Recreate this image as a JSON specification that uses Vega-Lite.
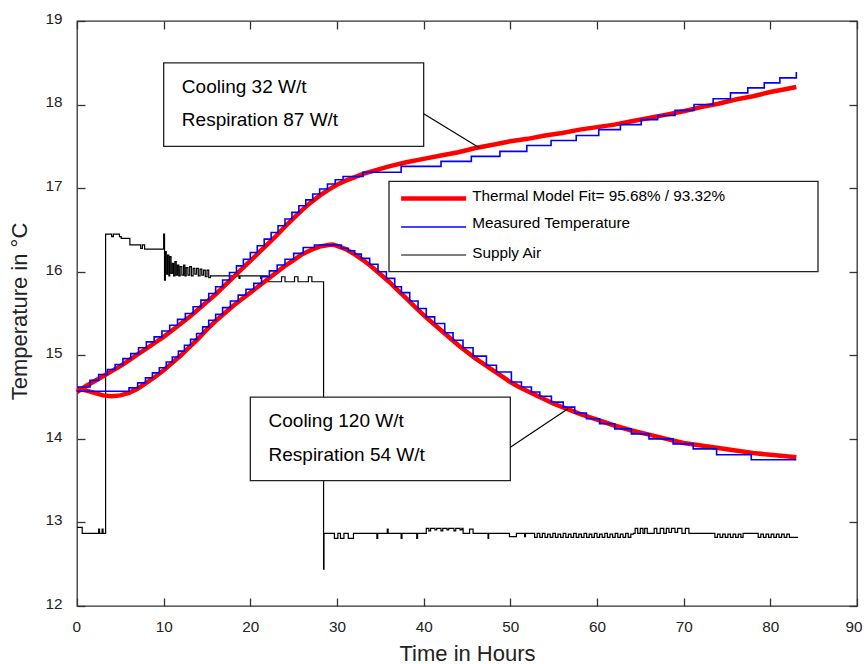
{
  "$schema": "https://vega.github.io/schema/vega-lite/v6.json",
  "width": 780,
  "height": 585,
  "autosize": {"type": "none"},
  "padding": {"left": 77, "top": 21, "right": 7, "bottom": 58},
  "background": "white",
  "config": {
    "view": {"stroke": "#333333", "strokeWidth": 1.3},
    "axis": {"labelFont": "Liberation Sans", "titleFont": "Liberation Sans"},
    "text": {"font": "Liberation Sans"}
  },
  "resolve": {"axis": {"x": "independent", "y": "independent"}},
  "datasets": {
    "fit": [
      {"c":"A","x":0,"y":14.56},{"c":"A","x":1,"y":14.63},{"c":"A","x":2,"y":14.69},{"c":"A","x":3,"y":14.75},{"c":"A","x":4,"y":14.81},{"c":"A","x":5,"y":14.87},{"c":"A","x":6,"y":14.94},{"c":"A","x":7,"y":15.01},{"c":"A","x":8,"y":15.08},{"c":"A","x":9,"y":15.15},{"c":"A","x":10,"y":15.22},{"c":"A","x":11,"y":15.30},{"c":"A","x":12,"y":15.38},{"c":"A","x":13,"y":15.46},{"c":"A","x":14,"y":15.55},{"c":"A","x":15,"y":15.64},{"c":"A","x":16,"y":15.73},{"c":"A","x":17,"y":15.83},{"c":"A","x":18,"y":15.93},{"c":"A","x":19,"y":16.03},{"c":"A","x":20,"y":16.13},{"c":"A","x":21,"y":16.23},{"c":"A","x":22,"y":16.33},{"c":"A","x":23,"y":16.43},{"c":"A","x":24,"y":16.54},{"c":"A","x":25,"y":16.64},{"c":"A","x":26,"y":16.74},{"c":"A","x":27,"y":16.83},{"c":"A","x":28,"y":16.91},{"c":"A","x":29,"y":16.98},{"c":"A","x":30,"y":17.04},{"c":"A","x":31,"y":17.09},{"c":"A","x":32,"y":17.13},{"c":"A","x":33,"y":17.17},{"c":"A","x":34,"y":17.20},{"c":"A","x":35,"y":17.23},{"c":"A","x":36,"y":17.26},{"c":"A","x":38,"y":17.31},{"c":"A","x":40,"y":17.35},{"c":"A","x":42,"y":17.39},{"c":"A","x":44,"y":17.43},{"c":"A","x":46,"y":17.48},{"c":"A","x":48,"y":17.52},{"c":"A","x":50,"y":17.56},{"c":"A","x":52,"y":17.59},{"c":"A","x":54,"y":17.63},{"c":"A","x":56,"y":17.66},{"c":"A","x":58,"y":17.70},{"c":"A","x":60,"y":17.73},{"c":"A","x":62,"y":17.76},{"c":"A","x":64,"y":17.80},{"c":"A","x":66,"y":17.84},{"c":"A","x":68,"y":17.88},{"c":"A","x":70,"y":17.92},{"c":"A","x":72,"y":17.97},{"c":"A","x":74,"y":18.01},{"c":"A","x":76,"y":18.06},{"c":"A","x":78,"y":18.10},{"c":"A","x":80,"y":18.15},{"c":"A","x":82,"y":18.19},{"c":"A","x":83,"y":18.21},
      {"c":"B","x":0,"y":14.60},{"c":"B","x":1,"y":14.58},{"c":"B","x":2,"y":14.55},{"c":"B","x":3,"y":14.52},{"c":"B","x":4,"y":14.51},{"c":"B","x":5,"y":14.52},{"c":"B","x":6,"y":14.55},{"c":"B","x":7,"y":14.60},{"c":"B","x":8,"y":14.67},{"c":"B","x":9,"y":14.74},{"c":"B","x":10,"y":14.82},{"c":"B","x":11,"y":14.91},{"c":"B","x":12,"y":15.00},{"c":"B","x":13,"y":15.10},{"c":"B","x":14,"y":15.20},{"c":"B","x":15,"y":15.31},{"c":"B","x":16,"y":15.41},{"c":"B","x":17,"y":15.50},{"c":"B","x":18,"y":15.59},{"c":"B","x":19,"y":15.67},{"c":"B","x":20,"y":15.75},{"c":"B","x":21,"y":15.83},{"c":"B","x":22,"y":15.91},{"c":"B","x":23,"y":15.99},{"c":"B","x":24,"y":16.07},{"c":"B","x":25,"y":16.14},{"c":"B","x":26,"y":16.21},{"c":"B","x":27,"y":16.26},{"c":"B","x":28,"y":16.30},{"c":"B","x":29,"y":16.32},{"c":"B","x":29.5,"y":16.325},{"c":"B","x":30,"y":16.31},{"c":"B","x":31,"y":16.27},{"c":"B","x":32,"y":16.21},{"c":"B","x":33,"y":16.14},{"c":"B","x":34,"y":16.06},{"c":"B","x":35,"y":15.97},{"c":"B","x":36,"y":15.88},{"c":"B","x":37,"y":15.78},{"c":"B","x":38,"y":15.68},{"c":"B","x":39,"y":15.58},{"c":"B","x":40,"y":15.48},{"c":"B","x":41,"y":15.39},{"c":"B","x":42,"y":15.30},{"c":"B","x":43,"y":15.21},{"c":"B","x":44,"y":15.12},{"c":"B","x":45,"y":15.04},{"c":"B","x":46,"y":14.96},{"c":"B","x":47,"y":14.89},{"c":"B","x":48,"y":14.82},{"c":"B","x":49,"y":14.75},{"c":"B","x":50,"y":14.68},{"c":"B","x":51,"y":14.62},{"c":"B","x":52,"y":14.57},{"c":"B","x":53,"y":14.52},{"c":"B","x":54,"y":14.47},{"c":"B","x":55,"y":14.42},{"c":"B","x":56,"y":14.38},{"c":"B","x":57,"y":14.34},{"c":"B","x":58,"y":14.30},{"c":"B","x":60,"y":14.23},{"c":"B","x":62,"y":14.16},{"c":"B","x":64,"y":14.10},{"c":"B","x":66,"y":14.05},{"c":"B","x":68,"y":14.00},{"c":"B","x":70,"y":13.95},{"c":"B","x":72,"y":13.92},{"c":"B","x":74,"y":13.89},{"c":"B","x":76,"y":13.86},{"c":"B","x":78,"y":13.83},{"c":"B","x":80,"y":13.81},{"c":"B","x":83,"y":13.78}
    ],
    "meas": [
      {"c":"A","x":0,"y":14.62},{"c":"A","x":1.5,"y":14.70},{"c":"A","x":2.5,"y":14.77},{"c":"A","x":3.5,"y":14.83},{"c":"A","x":4.4,"y":14.89},{"c":"A","x":5.3,"y":14.96},{"c":"A","x":6.2,"y":15.02},{"c":"A","x":7.1,"y":15.09},{"c":"A","x":8.0,"y":15.16},{"c":"A","x":8.9,"y":15.22},{"c":"A","x":9.8,"y":15.29},{"c":"A","x":10.7,"y":15.36},{"c":"A","x":11.6,"y":15.43},{"c":"A","x":12.5,"y":15.50},{"c":"A","x":13.4,"y":15.58},{"c":"A","x":14.3,"y":15.66},{"c":"A","x":15.2,"y":15.74},{"c":"A","x":16.0,"y":15.82},{"c":"A","x":16.8,"y":15.90},{"c":"A","x":17.6,"y":15.99},{"c":"A","x":18.4,"y":16.07},{"c":"A","x":19.2,"y":16.15},{"c":"A","x":20.0,"y":16.23},{"c":"A","x":20.8,"y":16.31},{"c":"A","x":21.6,"y":16.39},{"c":"A","x":22.4,"y":16.47},{"c":"A","x":23.2,"y":16.55},{"c":"A","x":24.0,"y":16.63},{"c":"A","x":24.8,"y":16.71},{"c":"A","x":25.6,"y":16.79},{"c":"A","x":26.4,"y":16.86},{"c":"A","x":27.2,"y":16.93},{"c":"A","x":28.0,"y":16.99},{"c":"A","x":28.9,"y":17.05},{"c":"A","x":29.8,"y":17.10},{"c":"A","x":30.7,"y":17.14},{"c":"A","x":33.0,"y":17.19},{"c":"A","x":37.4,"y":17.26},{"c":"A","x":42.0,"y":17.32},{"c":"A","x":45.5,"y":17.38},{"c":"A","x":48.8,"y":17.44},{"c":"A","x":51.9,"y":17.51},{"c":"A","x":54.7,"y":17.57},{"c":"A","x":57.6,"y":17.63},{"c":"A","x":60.2,"y":17.70},{"c":"A","x":62.7,"y":17.76},{"c":"A","x":65.1,"y":17.82},{"c":"A","x":67.0,"y":17.87},{"c":"A","x":69.0,"y":17.93},{"c":"A","x":71.2,"y":18.00},{"c":"A","x":73.4,"y":18.07},{"c":"A","x":75.4,"y":18.14},{"c":"A","x":77.4,"y":18.20},{"c":"A","x":79.3,"y":18.26},{"c":"A","x":81.1,"y":18.32},{"c":"A","x":83.0,"y":18.39},
      {"c":"B","x":0,"y":14.57},{"c":"B","x":6.0,"y":14.61},{"c":"B","x":7.0,"y":14.67},{"c":"B","x":7.9,"y":14.73},{"c":"B","x":8.7,"y":14.79},{"c":"B","x":9.5,"y":14.85},{"c":"B","x":10.3,"y":14.92},{"c":"B","x":11.0,"y":14.98},{"c":"B","x":11.7,"y":15.05},{"c":"B","x":12.4,"y":15.12},{"c":"B","x":13.1,"y":15.19},{"c":"B","x":13.8,"y":15.26},{"c":"B","x":14.5,"y":15.34},{"c":"B","x":15.2,"y":15.42},{"c":"B","x":16.0,"y":15.49},{"c":"B","x":16.8,"y":15.57},{"c":"B","x":17.7,"y":15.65},{"c":"B","x":18.6,"y":15.72},{"c":"B","x":19.5,"y":15.79},{"c":"B","x":20.4,"y":15.86},{"c":"B","x":21.3,"y":15.94},{"c":"B","x":22.2,"y":16.01},{"c":"B","x":23.1,"y":16.08},{"c":"B","x":24.0,"y":16.15},{"c":"B","x":25.0,"y":16.22},{"c":"B","x":26.1,"y":16.29},{"c":"B","x":27.4,"y":16.32},{"c":"B","x":30.5,"y":16.28},{"c":"B","x":31.3,"y":16.25},{"c":"B","x":32.04,"y":16.21},{"c":"B","x":32.8,"y":16.16},{"c":"B","x":33.77,"y":16.09},{"c":"B","x":34.73,"y":16.00},{"c":"B","x":35.7,"y":15.92},{"c":"B","x":36.66,"y":15.82},{"c":"B","x":37.43,"y":15.75},{"c":"B","x":38.39,"y":15.65},{"c":"B","x":39.35,"y":15.56},{"c":"B","x":40.3,"y":15.46},{"c":"B","x":41.27,"y":15.38},{"c":"B","x":42.43,"y":15.27},{"c":"B","x":43.39,"y":15.18},{"c":"B","x":44.54,"y":15.09},{"c":"B","x":45.7,"y":14.99},{"c":"B","x":47.24,"y":14.88},{"c":"B","x":48.4,"y":14.80},{"c":"B","x":50.12,"y":14.68},{"c":"B","x":51.28,"y":14.62},{"c":"B","x":52.43,"y":14.56},{"c":"B","x":53.4,"y":14.51},{"c":"B","x":54.74,"y":14.44},{"c":"B","x":56.1,"y":14.38},{"c":"B","x":57.43,"y":14.31},{"c":"B","x":58.78,"y":14.24},{"c":"B","x":60.3,"y":14.18},{"c":"B","x":62.05,"y":14.12},{"c":"B","x":63.97,"y":14.06},{"c":"B","x":66.0,"y":14.00},{"c":"B","x":68.78,"y":13.94},{"c":"B","x":71.1,"y":13.88},{"c":"B","x":73.8,"y":13.81},{"c":"B","x":77.8,"y":13.75},{"c":"B","x":83.0,"y":13.75}
    ],
    "air": [
      {"x":0,"y":12.94},{"x":0.6,"y":12.87},{"x":2.5,"y":12.92},{"x":2.6,"y":12.87},{"x":2.9,"y":12.92},{"x":3.0,"y":12.87},{"x":3.3,"y":16.45},{"x":4.0,"y":16.42},{"x":4.2,"y":16.45},{"x":4.9,"y":16.42},{"x":5.1,"y":16.40},{"x":6.1,"y":16.32},{"x":7.35,"y":16.28},{"x":7.55,"y":16.32},{"x":7.8,"y":16.27},
      {"x":10.0,"y":16.45},{"x":10.1,"y":15.90},{"x":10.2,"y":16.24},{"x":10.3,"y":15.97},{"x":10.45,"y":16.20},{"x":10.6,"y":15.95},{"x":10.7,"y":16.18},{"x":10.85,"y":15.98},{"x":11.0,"y":16.10},{"x":11.15,"y":15.95},{"x":11.3,"y":16.12},{"x":11.45,"y":15.96},{"x":11.6,"y":16.08},{"x":11.75,"y":15.95},{"x":11.9,"y":16.06},{"x":12.1,"y":15.96},{"x":12.3,"y":16.08},{"x":12.45,"y":15.95},{"x":12.6,"y":16.05},{"x":12.8,"y":15.96},{"x":13.0,"y":16.06},{"x":13.2,"y":15.95},{"x":13.4,"y":16.04},{"x":13.6,"y":15.97},{"x":13.8,"y":16.04},{"x":14.0,"y":15.95},{"x":14.2,"y":16.03},{"x":14.4,"y":15.96},{"x":14.6,"y":16.02},{"x":14.8,"y":15.94},{"x":15.0,"y":16.02},{"x":15.2,"y":15.93},{"x":15.4,"y":15.95},
      {"x":18.7,"y":15.92},{"x":18.8,"y":15.95},{"x":21.2,"y":15.92},{"x":21.3,"y":15.95},{"x":22.0,"y":15.88},{"x":23.6,"y":15.94},{"x":24.0,"y":15.88},{"x":25.1,"y":15.94},{"x":25.5,"y":15.88},{"x":26.7,"y":15.94},{"x":27.1,"y":15.88},
      {"x":28.45,"y":12.44},{"x":28.5,"y":12.87},{"x":29.7,"y":12.81},{"x":30.1,"y":12.87},{"x":30.4,"y":12.81},{"x":30.8,"y":12.87},{"x":31.3,"y":12.81},{"x":31.9,"y":12.87},{"x":34.6,"y":12.81},{"x":34.7,"y":12.87},{"x":35.8,"y":12.92},{"x":35.9,"y":12.87},{"x":37.4,"y":12.81},{"x":37.5,"y":12.87},{"x":39.2,"y":12.81},{"x":39.3,"y":12.87},
      {"x":40.3,"y":12.93},{"x":40.6,"y":12.90},{"x":40.8,"y":12.93},{"x":41.3,"y":12.91},{"x":41.5,"y":12.93},{"x":42.0,"y":12.90},{"x":42.2,"y":12.93},{"x":42.7,"y":12.91},{"x":42.9,"y":12.93},{"x":43.5,"y":12.90},{"x":43.7,"y":12.93},{"x":44.2,"y":12.91},{"x":44.4,"y":12.93},{"x":44.55,"y":12.87},{"x":45.3,"y":12.92},{"x":45.7,"y":12.87},{"x":47.43,"y":12.81},{"x":47.5,"y":12.87},{"x":49.9,"y":12.83},{"x":50.7,"y":12.87},{"x":51.65,"y":12.83},{"x":51.75,"y":12.87},
      {"x":52.8,"y":12.82},{"x":53.1,"y":12.87},{"x":53.4,"y":12.82},{"x":53.7,"y":12.87},{"x":54.0,"y":12.82},{"x":54.3,"y":12.86},{"x":54.6,"y":12.82},{"x":54.9,"y":12.87},{"x":55.2,"y":12.82},{"x":55.5,"y":12.86},{"x":55.8,"y":12.82},{"x":56.1,"y":12.87},{"x":56.4,"y":12.82},{"x":56.7,"y":12.86},{"x":57.0,"y":12.82},{"x":57.3,"y":12.87},{"x":57.6,"y":12.82},{"x":57.9,"y":12.86},{"x":58.2,"y":12.82},{"x":58.5,"y":12.87},{"x":58.8,"y":12.82},{"x":59.1,"y":12.86},{"x":59.4,"y":12.82},{"x":59.7,"y":12.87},{"x":60.0,"y":12.82},{"x":60.3,"y":12.86},{"x":60.6,"y":12.82},{"x":60.9,"y":12.87},{"x":61.2,"y":12.82},{"x":61.5,"y":12.86},{"x":61.8,"y":12.82},{"x":62.1,"y":12.87},{"x":62.4,"y":12.82},{"x":62.7,"y":12.86},{"x":63.0,"y":12.82},{"x":63.3,"y":12.87},{"x":63.6,"y":12.82},{"x":63.9,"y":12.86},{"x":64.2,"y":12.87},
      {"x":64.4,"y":12.93},{"x":64.7,"y":12.87},{"x":65.0,"y":12.93},{"x":65.3,"y":12.87},{"x":65.5,"y":12.93},{"x":65.8,"y":12.87},{"x":66.6,"y":12.93},{"x":66.9,"y":12.87},{"x":67.3,"y":12.93},{"x":67.7,"y":12.87},{"x":68.0,"y":12.93},{"x":68.3,"y":12.88},{"x":68.6,"y":12.93},{"x":69.0,"y":12.88},{"x":69.3,"y":12.93},{"x":69.8,"y":12.87},{"x":70.2,"y":12.93},{"x":70.6,"y":12.87},
      {"x":73.6,"y":12.82},{"x":73.9,"y":12.86},{"x":74.2,"y":12.82},{"x":74.5,"y":12.86},{"x":74.8,"y":12.82},{"x":75.1,"y":12.86},{"x":75.4,"y":12.82},{"x":75.7,"y":12.86},{"x":76.0,"y":12.82},{"x":76.3,"y":12.86},{"x":76.6,"y":12.82},{"x":76.85,"y":12.87},
      {"x":78.6,"y":12.82},{"x":78.9,"y":12.86},{"x":79.2,"y":12.82},{"x":79.5,"y":12.86},{"x":79.8,"y":12.82},{"x":80.1,"y":12.86},{"x":80.4,"y":12.82},{"x":80.7,"y":12.86},{"x":81.0,"y":12.82},{"x":81.3,"y":12.86},{"x":81.6,"y":12.82},{"x":81.9,"y":12.86},{"x":82.2,"y":12.82},{"x":83.2,"y":12.82}
    ],
    "boxes": [
      {"x":10,"x2":40,"y":17.5,"y2":18.5},
      {"x":20,"x2":50,"y":13.5,"y2":14.5},
      {"x":36,"x2":85.5,"y":16.0,"y2":17.08}
    ],
    "notes": [
      {"x":12.1,"y":18.21,"t":"Cooling 32 W/t"},
      {"x":12.1,"y":17.81,"t":"Respiration 87 W/t"},
      {"x":22.1,"y":14.21,"t":"Cooling 120 W/t"},
      {"x":22.1,"y":13.81,"t":"Respiration 54 W/t"}
    ],
    "legendtext": [
      {"x":45.6,"y":16.91,"t":"Thermal Model Fit= 95.68% / 93.32%"},
      {"x":45.6,"y":16.58,"t":"Measured Temperature"},
      {"x":45.6,"y":16.22,"t":"Supply Air"}
    ]
  },
  "encoding": {
    "x": {"field": "x", "type": "quantitative", "scale": {"domain": [0, 90], "nice": false, "zero": false}, "axis": null},
    "y": {"field": "y", "type": "quantitative", "scale": {"domain": [12, 19], "nice": false, "zero": false}, "axis": null}
  },
  "layer": [
    {
      "data": {"name": "air"},
      "mark": {"type": "line", "color": "#000000", "strokeWidth": 1.2, "interpolate": "step-after"},
      "encoding": {
        "x": {"field": "x", "type": "quantitative", "scale": {"domain": [0, 90], "nice": false, "zero": false},
          "axis": {"orient": "bottom", "values": [0,10,20,30,40,50,60,70,80,90], "format": "d", "title": "Time in Hours",
            "domain": false, "grid": false, "ticks": true, "tickSize": -8, "tickWidth": 1.3, "tickColor": "#333333",
            "labelPadding": 21, "labelFontSize": 15.3, "labelColor": "#222222", "labelFlush": true, "labelFlushOffset": 5, "labelBaseline": "top", "labelOverlap": false,
            "titleFontSize": 22, "titleFontWeight": "normal", "titleColor": "#222222", "titleY": 54, "titleBaseline": "alphabetic"}},
        "y": {"field": "y", "type": "quantitative", "scale": {"domain": [12, 19], "nice": false, "zero": false},
          "axis": {"orient": "left", "values": [12,13,14,15,16,17,18,19], "format": "d", "title": "Temperature in °C",
            "domain": false, "grid": false, "ticks": true, "tickSize": -8, "tickWidth": 1.3, "tickColor": "#333333",
            "labelPadding": 23, "labelFontSize": 15.3, "labelColor": "#222222", "labelAlign": "right", "labelBaseline": "middle", "labelOffset": -2.6, "labelOverlap": false, "labelFlush": false,
            "titleFontSize": 22, "titleFontWeight": "normal", "titleColor": "#222222", "titleX": -51, "titleY": 290, "titleAngle": -90, "titleBaseline": "alphabetic", "titleAlign": "center"}}
      }
    },
    {
      "data": {"name": "fit"},
      "mark": {"type": "line", "color": "#ff0000", "strokeWidth": 4.5},
      "encoding": {
        "x": {"field": "x", "type": "quantitative", "scale": {"domain": [0, 90], "nice": false, "zero": false},
          "axis": {"orient": "top", "values": [0,10,20,30,40,50,60,70,80,90], "labels": false, "title": null, "domain": false, "grid": false, "ticks": true, "tickSize": -8, "tickWidth": 1.3, "tickColor": "#333333"}},
        "y": {"field": "y", "type": "quantitative", "scale": {"domain": [12, 19], "nice": false, "zero": false},
          "axis": {"orient": "right", "values": [12,13,14,15,16,17,18,19], "labels": false, "title": null, "domain": false, "grid": false, "ticks": true, "tickSize": -8, "tickWidth": 1.3, "tickColor": "#333333"}},
        "detail": {"field": "c", "type": "nominal"}
      }
    },
    {
      "data": {"name": "meas"},
      "mark": {"type": "line", "color": "#0000ff", "strokeWidth": 1.6, "interpolate": "step-after"},
      "encoding": {"detail": {"field": "c", "type": "nominal"}}
    },
    {
      "data": {"name": "boxes"},
      "mark": {"type": "rect", "fill": "#ffffff", "stroke": "#222222", "strokeWidth": 1.3},
      "encoding": {"x2": {"field": "x2"}, "y2": {"field": "y2"}}
    },
    {
      "data": {"values": [{"x":40,"y":17.89,"x2":46.46,"y2":17.48},{"x":50,"y":13.9,"x2":56.65,"y2":14.36}]},
      "mark": {"type": "rule", "color": "#000000", "strokeWidth": 1.2},
      "encoding": {"x2": {"field": "x2"}, "y2": {"field": "y2"}}
    },
    {
      "data": {"name": "notes"},
      "mark": {"type": "text", "align": "left", "baseline": "middle", "fontSize": 19, "font": "Liberation Sans", "color": "#000000"},
      "encoding": {"text": {"field": "t", "type": "nominal"}}
    },
    {
      "data": {"values": [{"x":37.4,"x2":44.9,"y":16.875}]},
      "mark": {"type": "rule", "color": "#ff0000", "strokeWidth": 4.5},
      "encoding": {"x2": {"field": "x2"}}
    },
    {
      "data": {"values": [{"x":37.4,"x2":44.9,"y":16.535}]},
      "mark": {"type": "rule", "color": "#0000ff", "strokeWidth": 1.6},
      "encoding": {"x2": {"field": "x2"}}
    },
    {
      "data": {"values": [{"x":37.4,"x2":44.9,"y":16.2}]},
      "mark": {"type": "rule", "color": "#000000", "strokeWidth": 1.2},
      "encoding": {"x2": {"field": "x2"}}
    },
    {
      "data": {"name": "legendtext"},
      "mark": {"type": "text", "align": "left", "baseline": "middle", "fontSize": 15.3, "font": "Liberation Sans", "color": "#000000"},
      "encoding": {"text": {"field": "t", "type": "nominal"}}
    }
  ]
}
